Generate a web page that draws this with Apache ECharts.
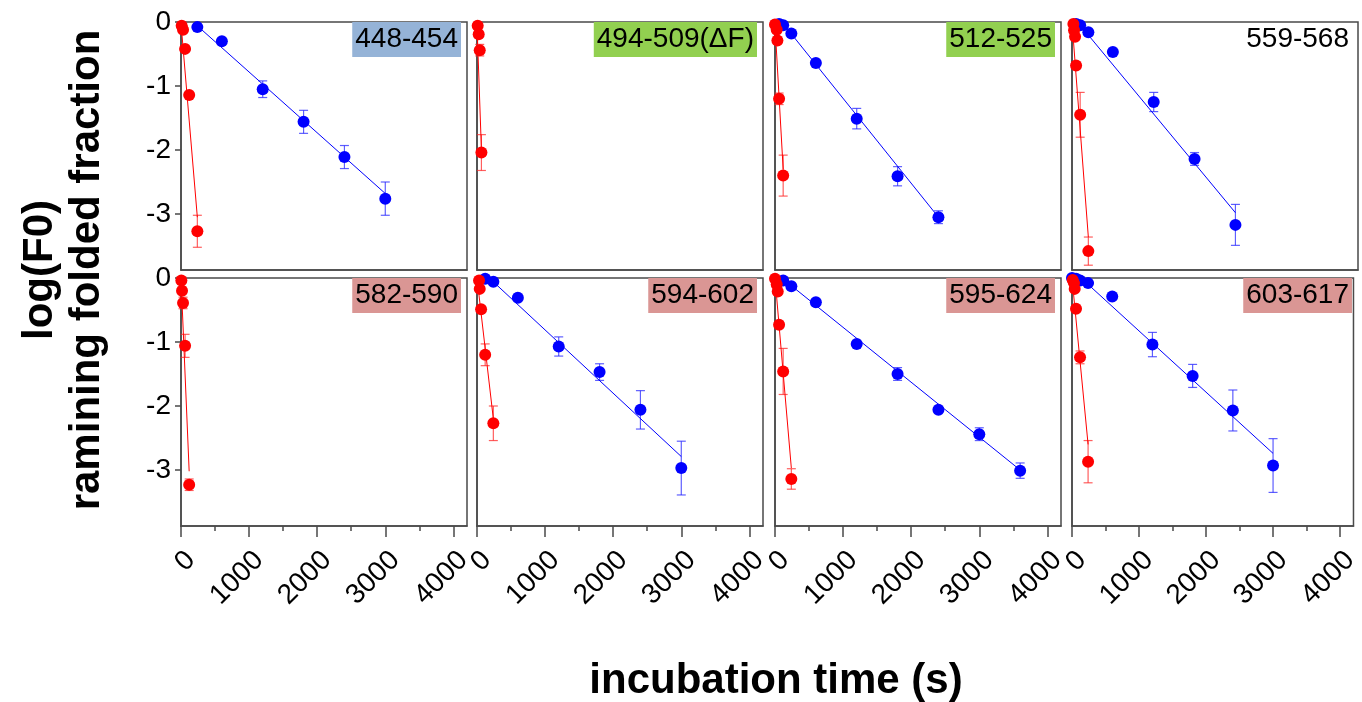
<!DOCTYPE html>
<html>
<head>
<meta charset="UTF-8">
<title>log(F0) vs incubation time</title>
<script src="https://cdn.jsdelivr.net/npm/echarts@6/dist/echarts.min.js"></script>
<style>
  html, body { margin: 0; padding: 0; background: #fff; }
  #main { width: 1362px; height: 702px; }
</style>
</head>
<body>
<div id="main"></div>
<script>
// panel names + label box colours (null = no box)
var panelNames = ['448-454', '494-509(ΔF)', '512-525', '559-568', '582-590', '594-602', '595-624', '603-617'];
var labelColors = ['#95b3d7', '#92d050', '#92d050', null, '#da9694', '#da9694', '#da9694', '#da9694'];

// blue series (slow), one list per panel
var blueTimes = [
  [240, 600, 1200, 1800, 2400, 3000],
  [],
  [60, 120, 240, 600, 1200, 1800, 2400],
  [60, 120, 240, 600, 1200, 1800, 2400],
  [],
  [120, 240, 600, 1200, 1800, 2400, 3000],
  [120, 240, 600, 1200, 1800, 2400, 3000, 3600],
  [0, 60, 120, 240, 600, 1200, 1800, 2400, 3000]
];
var blueLogF = [
  [-0.08, -0.30, -1.05, -1.56, -2.11, -2.76],
  [],
  [-0.03, -0.05, -0.18, -0.64, -1.51, -2.41, -3.05],
  [-0.03, -0.05, -0.16, -0.47, -1.25, -2.14, -3.17],
  [],
  [-0.01, -0.06, -0.31, -1.07, -1.47, -2.06, -2.97],
  [-0.04, -0.13, -0.38, -1.03, -1.50, -2.06, -2.44, -3.01],
  [0, -0.01, -0.04, -0.08, -0.29, -1.04, -1.53, -2.07, -2.93]
];
var blueErr = [
  [0, 0, 0.13, 0.18, 0.18, 0.26],
  [],
  [0, 0, 0, 0, 0.16, 0.15, 0.10],
  [0, 0, 0, 0, 0.15, 0.10, 0.32],
  [],
  [0, 0, 0, 0.15, 0.13, 0.30, 0.42],
  [0, 0, 0, 0, 0.10, 0, 0.10, 0.12],
  [0, 0, 0, 0, 0, 0.19, 0.18, 0.32, 0.42]
];
var blueFit = [
  [[240, -0.06], [3000, -2.68]],
  [],
  [[100, 0], [2400, -3.05]],
  [[120, -0.05], [2400, -2.98]],
  [],
  [[240, -0.06], [3000, -2.79]],
  [[240, -0.12], [3600, -3.0]],
  [[240, -0.1], [3000, -2.74]]
];

// red series (fast)
var redTimes = [
  [10, 30, 60, 120, 240],
  [10, 25, 40, 65],
  [0, 25, 35, 60, 120],
  [20, 30, 45, 60, 120, 240],
  [5, 15, 30, 60, 120],
  [30, 40, 60, 120, 240],
  [0, 25, 40, 60, 120, 240],
  [10, 30, 40, 60, 120, 240]
];
var redLogF = [
  [-0.06, -0.12, -0.42, -1.14, -3.27],
  [-0.06, -0.19, -0.44, -2.04],
  [-0.04, -0.12, -0.29, -1.20, -2.40],
  [-0.03, -0.13, -0.23, -0.68, -1.45, -3.58],
  [-0.04, -0.20, -0.39, -1.06, -3.23],
  [-0.04, -0.17, -0.49, -1.20, -2.27],
  [-0.01, -0.10, -0.21, -0.73, -1.46, -3.14],
  [-0.03, -0.08, -0.17, -0.48, -1.24, -2.87]
];
var redErr = [
  [0, 0, 0, 0, 0.25],
  [0, 0, 0.09, 0.28],
  [0, 0, 0, 0.09, 0.32],
  [0, 0, 0, 0, 0.35, 0.22],
  [0, 0, 0.09, 0.18, 0.09],
  [0, 0, 0, 0.17, 0.27],
  [0, 0, 0, 0, 0.36, 0.16],
  [0, 0, 0, 0, 0.10, 0.33]
];
var redFit = [
  [[0, -0.02], [240, -3.05]],
  [[0, -0.05], [65, -2.0]],
  [[0, -0.05], [120, -2.3]],
  [[0, 0], [240, -3.36]],
  [[0, 0], [120, -3.02]],
  [[0, 0], [240, -2.2]],
  [[0, 0], [240, -2.97]],
  [[0, 0], [240, -2.6]]
];

var xMajor = [0, 1000, 2000, 3000, 4000];
var xMinor = [500, 1500, 2500, 3500];
var yTicks = [0, -1, -2, -3];

var FONT = 'Liberation Sans, Arial, sans-serif';
var gridLefts = [181, 477, 775, 1072];
var gridTops = [22, 278];
var gridW = 286, gridH = 248;
var frameColor = '#4a4a4a';

function errBar(params, api) {
  var x = api.value(0), y = api.value(1), e = api.value(2);
  var p1 = api.coord([x, y + e]);
  var p2 = api.coord([x, y - e]);
  var c = 4.5;
  var st = { stroke: api.visual('color'), lineWidth: 1.2 };
  return {
    type: 'group',
    children: [
      { type: 'line', shape: { x1: p1[0], y1: p1[1], x2: p2[0], y2: p2[1] }, style: st },
      { type: 'line', shape: { x1: p1[0] - c, y1: p1[1], x2: p1[0] + c, y2: p1[1] }, style: st },
      { type: 'line', shape: { x1: p2[0] - c, y1: p2[1], x2: p2[0] + c, y2: p2[1] }, style: st }
    ]
  };
}

var grids = [], xAxes = [], yAxes = [], series = [], titles = [];

panelNames.forEach(function (name, i) {
  var row = i < 4 ? 0 : 1, col = i % 4;
  grids.push({
    left: gridLefts[col], top: gridTops[row], width: gridW, height: gridH,
    show: true, borderColor: frameColor, borderWidth: 1.5, backgroundColor: 'transparent'
  });
  var xa = {
    type: 'value', gridIndex: i, min: 0, max: 4200, position: 'bottom',
    axisLine: { show: true, onZero: false, lineStyle: { color: frameColor, width: 1.5 } },
    axisTick: { show: false },
    axisLabel: { show: false },
    splitLine: { show: false }
  };
  if (row === 1) {
    xa.axisTick = { show: true, length: 11, customValues: xMajor, lineStyle: { color: frameColor, width: 1.5 } };
    xa.axisLabel = {
      show: true, customValues: xMajor, rotate: 45, verticalAlign: 'top', margin: 20,
      fontSize: 28, color: '#000', fontFamily: FONT,
      formatter: function (v) { return String(v); }
    };
  }
  xAxes.push(xa);
  var ya = {
    type: 'value', gridIndex: i, min: -3.875, max: 0, position: 'left',
    axisLine: { show: true, onZero: false, lineStyle: { color: frameColor, width: 1.5 } },
    axisTick: { show: false },
    axisLabel: { show: false },
    splitLine: { show: false }
  };
  if (col === 0) {
    ya.axisTick = { show: true, length: 6, customValues: yTicks, lineStyle: { color: frameColor, width: 1.5 } };
    ya.axisLabel = { show: true, customValues: yTicks, margin: 10, fontSize: 28, color: '#000', fontFamily: FONT };
  }
  yAxes.push(ya);

  // label box in the upper right corner
  titles.push({
    text: name,
    right: 1362 - (gridLefts[col] + gridW - 6),
    top: gridTops[row],
    padding: [2, 3],
    backgroundColor: labelColors[i] || 'transparent',
    textStyle: { fontSize: 28, fontWeight: 'normal', color: '#000', fontFamily: FONT, lineHeight: 31 }
  });

  [['blue', '#0000ff', 'rgba(40,40,255,0.75)', blueTimes, blueLogF, blueErr, blueFit],
   ['red', '#ff0000', 'rgba(255,40,40,0.75)', redTimes, redLogF, redErr, redFit]].forEach(function (s) {
    var t = s[3][i];
    if (!t.length) return;
    var pts = t.map(function (v, k) { return [v, s[4][i][k]]; });
    var bars = t.map(function (v, k) { return [v, s[4][i][k], s[5][i][k]]; })
      .filter(function (d) { return d[2] > 0; });
    series.push({
      type: 'custom', xAxisIndex: i, yAxisIndex: i, renderItem: errBar,
      itemStyle: { color: s[2] }, data: bars, z: 2
    });
    series.push({
      type: 'line', xAxisIndex: i, yAxisIndex: i, data: s[6][i], symbol: 'none',
      lineStyle: { color: s[1], width: 1 }, z: 3
    });
    series.push({
      type: 'scatter', xAxisIndex: i, yAxisIndex: i, data: pts, symbolSize: 12,
      itemStyle: { color: s[1], opacity: 1 }, z: 4
    });
  });
});

// extra axes on the bottom row: short minor ticks at 500 s
[4, 5, 6, 7].forEach(function (g) {
  xAxes.push({
    type: 'value', gridIndex: g, min: 0, max: 4200, position: 'bottom',
    axisLine: { show: false, onZero: false },
    axisTick: { show: true, length: 5, customValues: xMinor, lineStyle: { color: frameColor, width: 1.5 } },
    axisLabel: { show: false },
    splitLine: { show: false }
  });
});

var myChart = echarts.init(document.getElementById('main'), null, { renderer: 'canvas' });
myChart.setOption({
  animation: false,
  backgroundColor: '#fff',
  title: titles,
  grid: grids,
  xAxis: xAxes,
  yAxis: yAxes,
  series: series,
  graphic: [
    {
      type: 'text', x: 776, y: 681,
      style: {
        text: 'incubation time (s)', font: 'bold 42px ' + FONT, fill: '#000',
        textAlign: 'center', textVerticalAlign: 'middle'
      }
    },
    {
      type: 'text', x: 64, y: 270, rotation: Math.PI / 2,
      style: {
        text: 'log(F0)\nramining folded fraction', font: 'bold 42px ' + FONT, fill: '#000',
        textAlign: 'center', textVerticalAlign: 'middle', lineHeight: 47
      }
    }
  ]
});
</script>
</body>
</html>
